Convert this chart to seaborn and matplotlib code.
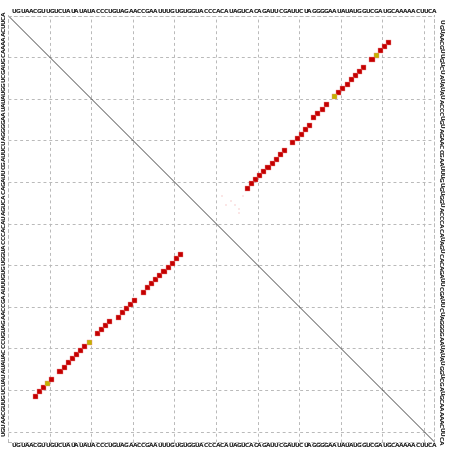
import matplotlib
matplotlib.use("Agg")
import matplotlib.pyplot as plt
import seaborn as sns
import pandas as pd

# ---- data ----
sequence = ("UGUAACGUUGUCUAUAUAUACCCUGUAGAACCGAAUUUGUGUGGUACCCACAUAG"
            "UCACAGAUUCGAUUCUAGGGGAAUAUAUGGUCGAUGCAAAAACUUCA")
pair_i = [6, 7, 8, 9, 10, 12, 13, 14, 15, 16, 17, 18, 19, 21, 22, 23, 24,
          26, 27, 28, 29, 30, 32, 33, 34, 35, 36, 37, 38, 39, 40, 41]
pair_j = [91, 90, 89, 88, 87, 85, 84, 83, 82, 81, 80, 79, 78, 76, 75, 74, 73,
          72, 71, 70, 69, 68, 66, 65, 64, 63, 62, 61, 60, 59, 58, 57]
pair_kind = ["a", "a", "a", "b", "a", "a", "a", "a", "a", "a", "a", "a", "b",
             "a", "a", "a", "a", "a", "a", "a", "a", "a", "a", "a", "a", "a",
             "a", "a", "a", "a", "a", "a"]
faint_i = [43, 45, 44, 45, 46, 43, 47]
faint_j = [51, 52, 53, 54, 55, 56, 55]

N = len(sequence)
sns.set_style("white")

fig = plt.figure(figsize=(4.52, 4.51), dpi=100)
W, H = 452, 451
x0, x1 = 8, 434.4
y0, y1 = 15.5, 441.9
ax = fig.add_axes([x0 / W, 1 - y1 / H, (x1 - x0) / W, (y1 - y0) / H])

lo, hi = -0.5, 102
ax.set_xlim(lo, hi)
ax.set_ylim(hi, lo)

gpos = [9.5 + 10 * k for k in range(10)]
ax.set_xticks(gpos)
ax.set_yticks(gpos)
ax.tick_params(length=0, labelbottom=False, labelleft=False)
ax.grid(True, color="#b8b8b8", linestyle=(0, (3, 3)), linewidth=0.7)
for s in ax.spines.values():
    s.set_linestyle((0, (3, 3)))
    s.set_color("#b8b8b8")
    s.set_linewidth(0.7)

ax.plot([lo, hi], [lo, hi], color="#444444", linewidth=0.5, zorder=2)

# faint low-probability pairs (upper triangle)
df_f = pd.DataFrame({"x": faint_j, "y": faint_i})
sns.scatterplot(data=df_f, x="x", y="y", marker="s", s=4, color="#fbe6e6",
                linewidth=0, ax=ax, zorder=3, legend=False)

upper = pd.DataFrame({"x": pair_j, "y": pair_i, "kind": pair_kind})
lower = pd.DataFrame({"x": pair_i, "y": pair_j, "kind": pair_kind})
df = pd.concat([upper, lower], ignore_index=True)
sns.scatterplot(data=df, x="x", y="y", hue="kind", marker="s", s=13,
                palette={"a": "#c40000", "b": "#c2b200"},
                edgecolor="#f09090", linewidth=0.3, ax=ax, zorder=4,
                legend=False)
ax.set_xlabel("")
ax.set_ylabel("")

fkw = dict(fontsize=4.2, fontweight="bold", color="#1a1a1a",
           ha="center", va="center", clip_on=False, family="DejaVu Sans")
for k, ch in enumerate(sequence):
    p = k + 1
    ax.text(p, -1.35, ch, **fkw)
    ax.text(p, 102.8, ch, **fkw)
    ax.text(-1.35, 100 - k, ch, rotation=90, **fkw)
    ax.text(103.5, p, ch, rotation=270, **fkw)

fig.savefig("out.png", dpi=100)
